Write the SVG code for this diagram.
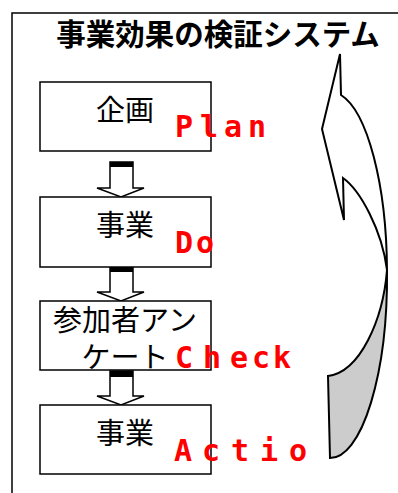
<svg xmlns="http://www.w3.org/2000/svg" width="398" height="493" viewBox="0 0 398 493">
<style>
.frame{fill:none;stroke:#000;stroke-width:1.5}
.box{fill:#fff;stroke:#000;stroke-width:1.5}
.jp{font-family:"Noto Sans CJK JP","Noto Sans CJK SC",sans-serif;font-size:29px;fill:#000;text-anchor:middle}
.title{font-weight:bold;font-size:29.5px}
.red{font-family:"DejaVu Sans Mono","Liberation Mono",monospace;font-weight:bold;font-size:30px;fill:#ff0000}
.arr{fill:#fff;stroke:#000;stroke-width:1.5;stroke-linejoin:miter}
.band{fill:#000}
.curve{stroke:#000;stroke-width:2;stroke-linejoin:miter}
</style>
<rect width="398" height="493" fill="#fff"/>
<g id="frame">
<path class="frame" d="M12,493 V13 H398"/>
</g>
<g id="title">
<text class="jp title" x="218" y="45">事業効果の検証システム</text>
</g>
<g id="connectors">
<g id="arrow1">
<path class="arr" d="M110,162 H133 V188 H144 L121,197 L97,188 H110 Z"/>
<rect class="band" x="110" y="162" width="23" height="5"/>
</g>
<g id="arrow2">
<path class="arr" d="M110,267 H133 V292 H144 L121,301 L97,292 H110 Z"/>
<rect class="band" x="110" y="267" width="23" height="5"/>
</g>
<g id="arrow3">
<path class="arr" d="M110,371 H133 V396 H144 L121,405 L97,396 H110 Z"/>
<rect class="band" x="110" y="371" width="23" height="6"/>
</g>
<g id="cycle-arrow">
<path class="curve" fill="#fff" d="M340,54 L341,95 A57 182 0 0 1 387,270 C382,230 360,190 343,178 L344,220 L322,129 Z"/>
<path class="curve" fill="#cccccc" d="M387,270 A57 182 0 0 1 330,458 L328,376 C360,372 383,320 387,270 Z"/>
</g>
</g>
<g id="node-plan">
<rect class="box" x="40" y="82" width="171" height="69"/>
<text class="jp" x="125" y="121">企画</text>
<text class="red" x="175 200 224 248" y="137">Plan</text>
</g>
<g id="node-do">
<rect class="box" x="40" y="197" width="171" height="70"/>
<text class="jp" x="125" y="236">事業</text>
<text class="red" x="175 196" y="253">Do</text>
</g>
<g id="node-check">
<rect class="box" x="40" y="301" width="171" height="69"/>
<text class="jp" x="125" y="331">参加者アン</text>
<text class="jp" x="125" y="368">ケート</text>
<text class="red" x="175 203 230 252 273" y="368">Check</text>
</g>
<g id="node-action">
<rect class="box" x="40" y="405" width="171" height="69"/>
<text class="jp" x="125" y="444">事業</text>
<text class="red" x="174 202 231 260 289" y="461">Actio</text>
</g>
</svg>
